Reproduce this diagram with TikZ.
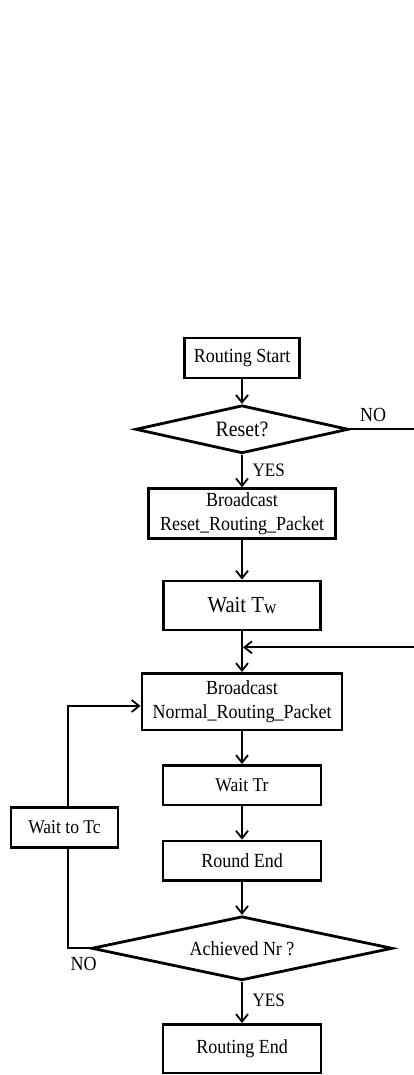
\documentclass[tikz,border=0pt]{standalone}
\usepackage{fontspec}
\setmainfont{Liberation Serif}[FakeStretch=0.9]
\usetikzlibrary{arrows.meta,shapes.geometric,calc}

% lowered, slightly smaller index letter (as in T_w)
\newcommand\lowidx[1]{\raisebox{-1.5pt}{\fontsize{19}{19}\selectfont #1}}

\begin{document}
\begin{tikzpicture}[x=1pt,y=-1pt,
  box/.style={draw,line width=2.8pt,inner sep=0pt,align=center,
    font=\fontsize{20}{23.5}\selectfont},
  decision/.style={draw,diamond,line width=2.8pt,inner sep=0pt,
    font=\fontsize{20}{20}\selectfont},
  flow/.style={line width=1.8pt,
    -{Straight Barb[length=7.5pt,width=12pt,line width=1.8pt]}},
  link/.style={line width=1.8pt},
  tag/.style={inner sep=0pt,font=\fontsize{20}{20}\selectfont}]
\useasboundingbox (0,0) rectangle (414,1075);
\clip (0,0) rectangle (414,1075);

% process steps
\node[box,minimum width=115,minimum height=40] (start) at (242,358) {Routing Start};
\node[decision,minimum width=213,minimum height=48,aspect=4.5,
      font=\fontsize{22}{22}\selectfont] (reset) at (242,429.3) {Reset?};
\node[box,minimum width=187,minimum height=49.5] (bcreset) at (242,513.5)
  {Broadcast\\Reset\_Routing\_Packet};
\node[box,minimum width=157,minimum height=49,
      font=\fontsize{23}{23}\selectfont] (waitw) at (242,605.5) {Wait T\lowidx{w}};
\node[box,minimum width=200,minimum height=56.5] (bcnormal) at (242,701.7)
  {Broadcast\\Normal\_Routing\_Packet};
\node[box,minimum width=158,minimum height=39.5,
      font=\fontsize{19.5}{19.5}\selectfont] (waitr) at (242,785.2) {Wait Tr};
\node[box,minimum width=107,minimum height=40,
      font=\fontsize{19.5}{19.5}\selectfont] (waittc) at (64.5,827.2) {Wait to Tc};
\node[box,minimum width=158,minimum height=39.5] (roundend) at (242,860.8) {Round End};
\node[decision,minimum width=301,minimum height=64,aspect=4.6] (achieved)
  at (242,948.3) {Achieved Nr ?};
\node[box,minimum width=158,minimum height=48.5] (routingend) at (242,1048.7) {Routing End};

% branch labels
\node[tag] (noreset) at (373,415) {NO};
\node[tag,font=\fontsize{19}{19}\selectfont] (yesreset) at (268.8,470) {YES};
\node[tag] (noround) at (83.7,963.8) {NO};
\node[tag,font=\fontsize{19}{19}\selectfont] (yesround) at (268.7,1000) {YES};

% junction where the skipped-reset branch rejoins
\coordinate (join) at (243,647.3);

% main flow
\draw[flow] (start) -- (reset);
\draw[flow] (reset) -- (bcreset);
\draw[flow] (bcreset) -- (waitw);
\draw[flow] (waitw) -- (bcnormal);
\draw[flow] (reset.east) -- (420,429.3) |- (join);
\draw[flow] (bcnormal) -- (waitr);
\draw[flow] (waitr) -- (roundend);
\draw[flow] (roundend) -- (achieved);
\draw[flow] (achieved) -- (routingend);

% repeat loop through the waiting step
\draw[link] (achieved.west) -- (68.3,948.3) -- ([xshift=3.8pt]waittc.south);
\draw[flow] ([xshift=3.8pt]waittc.north) |- ([yshift=-4.3pt]bcnormal.west);
\end{tikzpicture}
\end{document}
